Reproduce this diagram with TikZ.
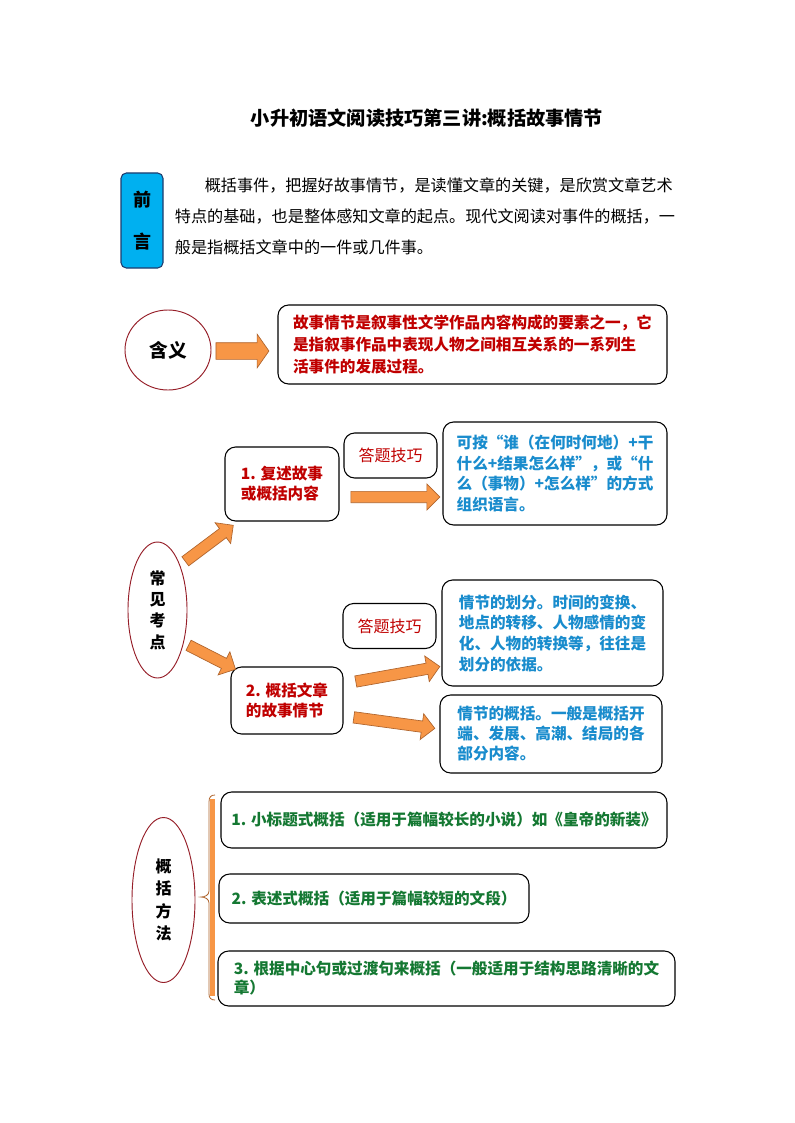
\documentclass[tikz,border=0pt]{standalone}
\usepackage{fontspec}
\setmainfont{Noto Sans CJK SC}
\usetikzlibrary{shapes.geometric,shapes.arrows,calc}
\definecolor{textred}{RGB}{192,0,0}
\definecolor{textblue}{RGB}{25,140,205}
\definecolor{textgreen}{RGB}{20,120,50}
\definecolor{ovalred}{RGB}{150,30,40}
\definecolor{arroworange}{RGB}{247,150,70}
\definecolor{arrowedge}{RGB}{175,100,45}
\definecolor{prefblue}{RGB}{0,176,240}
\definecolor{prefedge}{RGB}{30,60,110}
\tikzset{
  roundbox/.style={draw=black, line width=0.8pt, rounded corners=8pt, align=left, inner sep=0pt},
  oval/.style={ellipse, draw=ovalred, line width=0.7pt, align=center, inner sep=0pt,
    font=\bfseries\fontsize{12}{16}\selectfont},
  fatarrow/.style={single arrow, draw=arrowedge, fill=arroworange, line width=0.5pt,
    inner xsep=0pt, inner ysep=4pt, single arrow head extend=5.5pt, single arrow tip angle=90},
  redtext/.style={text=textred, font=\bfseries\fontsize{11.7}{15}\selectfont},
  bluetext/.style={text=textblue, font=\bfseries\fontsize{11.7}{15.5}\selectfont},
  greentext/.style={text=textgreen, font=\bfseries\fontsize{11.7}{14.25}\selectfont},
  tipbox/.style={roundbox, align=center, minimum width=69.75pt, minimum height=33.75pt,
    text=textred, font=\fontsize{12}{14}\selectfont}
}
\begin{document}
\begin{tikzpicture}[x=0.75pt, y=-0.75pt]
    \fill[white] (0,0) rectangle (794,1123);
    \useasboundingbox (0,0) rectangle (794,1123);
    % title and preface
    \node (title) at (427,118) [font=\bfseries\fontsize{14.4}{17}\selectfont] {小升初语文阅读技巧第三讲:概括故事情节};
    \node (pref) at (142,220.5) [draw=prefedge, fill=prefblue, rounded corners=4pt, line width=0.8pt, minimum width=31.5pt, minimum height=71.25pt, align=center, font=\bfseries\fontsize{13.5}{32}\selectfont] {前\\言};
    \node (intro) at (425,216) [align=left, font=\fontsize{12.1}{23.25}\selectfont] {\hspace*{1.85em}概括事件，把握好故事情节，是读懂文章的关键，是欣赏文章艺术\\特点的基础，也是整体感知文章的起点。现代文阅读对事件的概括，一\\般是指概括文章中的一件或几件事。};
    % meaning
    \node (mean) at (168,350) [oval, minimum width=64.5pt, minimum height=60pt, font=\bfseries\fontsize{14}{17}\selectfont] {含义};
    \node (meandef) at (472.5,344.5) [roundbox, minimum width=291.75pt, minimum height=59.25pt, redtext, font=\bfseries\fontsize{11.7}{16.5}\selectfont] {故事情节是叙事性文学作品内容构成的要素之一，它\\是指叙事作品中表现人物之间相互关系的一系列生\\活事件的发展过程。};
    % test points
    \node (points) at (157.5,610) [oval, minimum width=44.25pt, minimum height=102pt] {常\\见\\考\\点};
    \node (pt1) at (282,484) [roundbox, minimum width=85.5pt, minimum height=55.5pt, redtext] {1. 复述故事\\或概括内容};
    \node (tip1) at (390.5,455.5) [tipbox] {答题技巧};
    \node (ans1) at (555,473.5) [roundbox, minimum width=168pt, minimum height=77.25pt, bluetext] {可按“谁（在何时何地）+干\\什么+结果怎么样”，或“什\\么（事物）+怎么样”的方式\\组织语言。};
    \node (pt2) at (287,700.5) [roundbox, minimum width=84pt, minimum height=50.25pt, redtext] {2. 概括文章\\的故事情节};
    \node (tip2) at (389.5,626) [tipbox] {答题技巧};
    \node (ans2) at (552.5,633) [roundbox, minimum width=165.75pt, minimum height=79.5pt, bluetext] {情节的划分。时间的变换、\\地点的转移、人物感情的变\\化、人物的转换等，往往是\\划分的依据。};
    \node (ans3) at (551,734) [roundbox, minimum width=166.5pt, minimum height=58.5pt, bluetext, font=\bfseries\fontsize{11.7}{15}\selectfont] {情节的概括。一般是概括开\\端、发展、高潮、结局的各\\部分内容。};
    % methods
    \node (methods) at (163.5,900) [oval, minimum width=47.25pt, minimum height=123.75pt, font=\bfseries\fontsize{12}{16.9}\selectfont] {概\\括\\方\\法};
    \node (m1) at (444,820) [roundbox, minimum width=334.5pt, minimum height=42pt, greentext] {1. 小标题式概括（适用于篇幅较长的小说）如《皇帝的新装》};
    \node (m2) at (374,898.5) [roundbox, minimum width=232.5pt, minimum height=36.75pt, greentext] {2. 表述式概括（适用于篇幅较短的文段）};
    \node (m3) at (446.5,978.5) [roundbox, minimum width=342.75pt, minimum height=41.25pt, greentext] {3. 根据中心句或过渡句来概括（一般适用于结构思路清晰的文\\章）};
    % brace
    \fill[arroworange] (209.5,799) rectangle (214.5,996);
    \draw[arrowedge, line width=0.6pt] (215,795) .. controls (211,795) and (209,797) .. (209,802) -- (209,891) .. controls (209,895) and (205,897) .. (201,897) .. controls (205,897) and (209,899) .. (209,903) -- (209,994) .. controls (209,998) and (211,1000) .. (215,1000);
    % arrows
    \coordinate (meanA) at (213,351); \coordinate (meanB) at (266,351);
    \coordinate (up1A) at (183,563); \coordinate (up1B) at (231,527);
    \coordinate (tip1A) at (348,497); \coordinate (tip1B) at (437,497);
    \coordinate (dn1A) at (186,644); \coordinate (dn1B) at (233,668);
    \coordinate (tip2A) at (353,682); \coordinate (tip2B) at (437,667);
    \coordinate (tip3A) at (351,717); \coordinate (tip3B) at (432,728);
    \path let \p1=($(meanB)-(meanA)$), \n1={veclen(\x1,\y1)} in (meanA) -- node[fatarrow, sloped, minimum height=\n1, inner ysep=6pt, single arrow head extend=6.4pt, single arrow tip angle=110] (arrmean) {} (meanB);
    \path let \p1=($(up1B)-(up1A)$), \n1={veclen(\x1,\y1)} in (up1A) -- node[fatarrow, sloped, minimum height=\n1] (arrup) {} (up1B);
    \path let \p1=($(tip1B)-(tip1A)$), \n1={veclen(\x1,\y1)} in (tip1A) -- node[fatarrow, sloped, minimum height=\n1] (arrtip1) {} (tip1B);
    \path let \p1=($(dn1B)-(dn1A)$), \n1={veclen(\x1,\y1)} in (dn1A) -- node[fatarrow, sloped, minimum height=\n1] (arrdn) {} (dn1B);
    \path let \p1=($(tip2B)-(tip2A)$), \n1={veclen(\x1,\y1)} in (tip2A) -- node[fatarrow, sloped, minimum height=\n1] (arrtip2) {} (tip2B);
    \path let \p1=($(tip3B)-(tip3A)$), \n1={veclen(\x1,\y1)} in (tip3A) -- node[fatarrow, sloped, minimum height=\n1] (arrtip3) {} (tip3B);
\end{tikzpicture}
\end{document}
